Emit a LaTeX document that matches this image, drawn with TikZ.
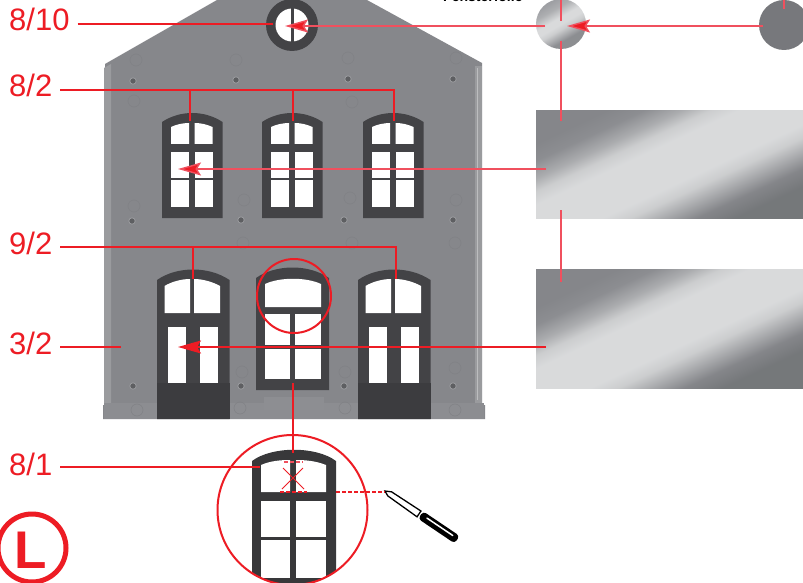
\documentclass[tikz,border=0pt]{standalone}
\usepackage{fontspec}
\setmainfont{Liberation Sans}
\usetikzlibrary{arrows.meta}
\definecolor{redline}{HTML}{ED1C24}
\definecolor{redsoft}{HTML}{F0505E}
\definecolor{wall}{HTML}{86878B}
\definecolor{wallstrip}{HTML}{9A9B9E}
\definecolor{frame}{HTML}{434346}
\definecolor{doordark}{HTML}{3C3C3F}
\definecolor{bolt}{HTML}{5E5F62}
\definecolor{peg}{HTML}{808185}
\definecolor{detailframe}{HTML}{38383A}
\definecolor{greydiscfill}{HTML}{77787C}
\pgfdeclareverticalshading{panelgrad}{100bp}{rgb(0bp)=(.46,.47,.48); rgb(40.5bp)=(.46,.47,.48); rgb(42.5bp)=(.52,.525,.54); rgb(44.5bp)=(.68,.685,.695); rgb(46bp)=(.8,.805,.81); rgb(47.5bp)=(.85,.855,.86); rgb(52.5bp)=(.85,.855,.86); rgb(54bp)=(.8,.805,.81); rgb(55.5bp)=(.67,.675,.685); rgb(57.5bp)=(.55,.555,.57); rgb(59.5bp)=(.52,.525,.54); rgb(100bp)=(.52,.525,.54)}
\pgfdeclareverticalshading{discgrad}{100bp}{rgb(0bp)=(.55,.555,.57); rgb(40bp)=(.55,.555,.57); rgb(47bp)=(.8,.805,.81); rgb(50bp)=(.85,.855,.86); rgb(54bp)=(.85,.855,.86); rgb(60bp)=(.68,.685,.695); rgb(65bp)=(.62,.625,.64); rgb(100bp)=(.62,.625,.64)}
\tikzset{
  callout/.style={draw=redline,line width=1.4pt},
  calloutsoft/.style={draw=redsoft,line width=1.4pt},
  pointer/.style={callout,-{Stealth[length=23pt,width=13pt,inset=4pt,fill=redline]}},
  pointersoft/.style={calloutsoft,-{Stealth[length=23pt,width=13pt,inset=4pt,fill=redline]}},
  partlabel/.style={inner sep=0pt,anchor=base west,text=redline,font=\fontsize{31}{31}\selectfont},
  ring/.style={draw=redline,line width=2pt},
  pane/.style={fill=white},
  boltdot/.style={fill=bolt,draw=wallstrip,line width=.8pt},
  pegring/.style={draw=peg,line width=.5pt},
}
\newcommand{\UpperWin}[1]{%
  \begin{scope}[xshift=#1pt]
    \fill[frame] (0,218) -- (0,122) .. controls (18,110) and (42.5,110) .. (60.5,122) -- (60.5,218) -- cycle;
    \fill[pane] (9,144) -- (9,127) .. controls (14,124.5) and (21,123) .. (27,123) -- (27,144) -- cycle;
    \fill[pane] (32.5,144) -- (32.5,123) .. controls (39,123) and (45,124.5) .. (50.5,127) -- (50.5,144) -- cycle;
    \fill[pane] (9,152) rectangle (27,178);
    \fill[pane] (32.5,152) rectangle (50.5,178);
    \fill[pane] (9,180) rectangle (27,207);
    \fill[pane] (32.5,180) rectangle (50.5,207);
  \end{scope}}
\newcommand{\DoorWin}[1]{%
  \begin{scope}[xshift=#1pt]
    \fill[frame] (0,419) -- (0,280) .. controls (20,266) and (52,266) .. (72.5,280) -- (72.5,419) -- cycle;
    \fill[doordark] (0,383) rectangle (72.5,419);
    \fill[pane] (7.5,313) -- (7.5,286) .. controls (14,282) and (24,279) .. (33,279) -- (33,313) -- cycle;
    \fill[pane] (37,313) -- (37,279) .. controls (46,279) and (56,282) .. (63,286) -- (63,313) -- cycle;
    \fill[pane] (11,327) rectangle (28.5,383);
    \fill[pane] (43,327) rectangle (61,383);
  \end{scope}}
\begin{document}
\begin{tikzpicture}[x=1pt,y=-1pt]
\useasboundingbox (0,0) rectangle (803,583);
\clip (0,0) rectangle (803,583);
\fill[white] (0,0) rectangle (803,583);

% caption cut by the page edge
\node[inner sep=0pt,anchor=base west,font=\bfseries\fontsize{14}{14}\selectfont] (caption) at (443,2) {Fensterfolie};

% building
\fill[wall] (103,419) -- (103,405) -- (105,405) -- (105,64) -- (217,0) -- (367,0) -- (482,63) -- (482,405) -- (485,405) -- (485,419) -- cycle;
\fill[wallstrip] (104,68) -- (111,64) -- (111,403) -- (104,403) -- cycle;
\fill[wallstrip] (475,66) -- (482,66) -- (482,403) -- (475,403) -- cycle;
\draw[white!45!wall,line width=1pt] (477.5,68) -- (477.5,400);
\fill[white!5!wall] (104,403) rectangle (484,419);
\fill[white!6!wall] (264,397) rectangle (324,410);
\foreach \px/\py in {136/60,236/60,348/58,456/58,134/101,352/102,134/206,244/200,350/198,456/200,243/243,352/243,455/243,242/372,345/372,455/368,137/410,240/408,345/408,455/410}
  \draw[pegring] (\px,\py) circle (6);
\foreach \px/\py in {133/81,236/80,348/79,453/79,132/221,241/220,344/220,453/220,133/386,241/386,344/386,453/386}
  \filldraw[boltdot] (\px,\py) circle (3.2);

% round window
\fill[frame] (292,25) circle (26);
\fill[pane] (292,25) circle (16.5);
\fill[frame] (290.5,8) rectangle (293.5,42);

% upper windows
\UpperWin{162}
\UpperWin{262}
\UpperWin{363}

% lower windows
\DoorWin{157}
\DoorWin{358}
\fill[frame] (256,390) -- (256,278) .. controls (276,264) and (309,264) .. (329,278) -- (329,390) -- cycle;
\fill[pane] (265,307) -- (265,284) .. controls (280,277) and (306,277) .. (321,284) -- (321,307) -- cycle;
\fill[pane] (265,314) rectangle (290,345);
\fill[pane] (295,314) rectangle (321,345);
\fill[pane] (265,349) rectangle (290,379);
\fill[pane] (295,349) rectangle (321,379);

% film discs and strips
\begin{scope}
  \clip (561,24) circle (25);
  \shade[shading=discgrad,shading angle=30] (521,-16) rectangle (601,64);
\end{scope}
\fill[greydiscfill] (784,25) circle (25);
\begin{scope}
  \clip (536,111) rectangle (803,218);
  \shade[shading=panelgrad,shading angle=25] (469.5,-35.5) rectangle (869.5,364.5);
\end{scope}
\begin{scope}
  \clip (536,269) rectangle (803,388);
  \shade[shading=panelgrad,shading angle=25] (469.5,128.5) rectangle (869.5,528.5);
\end{scope}

% labels
\node[partlabel] (l810) at (9,31) {8/10};
\node[partlabel] (l82) at (9,97) {8/2};
\node[partlabel] (l92) at (9,254) {9/2};
\node[partlabel] (l32) at (9,354) {3/2};
\node[partlabel] (l81) at (9,475) {8/1};

% anchors on the parts
\coordinate (roundwin) at (273,24);
\coordinate (roundtip) at (285,26);
\coordinate (disctip) at (567,26);
\coordinate (discleft) at (545,26);
\coordinate (greydisc) at (763,26);
\coordinate (stripatop) at (561,121);
\coordinate (stripabot) at (561,210);
\coordinate (stripbtop) at (561,282);
\coordinate (discbot) at (561,41);
\coordinate (disctop) at (561,21);
\coordinate (discedge) at (561,0);
\coordinate (greytop) at (784,9);
\coordinate (greyedge) at (784,0);
\coordinate (stripamid) at (546,169);
\coordinate (stripbmid) at (546,347);
\coordinate (upwintip) at (178,169);
\coordinate (doortip) at (178,347);
\coordinate (wallpoint) at (121,347);
\coordinate (busend) at (394,90);
\coordinate (drop1) at (190,121);
\coordinate (drop2) at (293,121);
\coordinate (drop3) at (394,121);
\coordinate (dbusend) at (396,247);
\coordinate (ddrop1) at (193,279);
\coordinate (ddrop2) at (396,279);
\coordinate (midwinbot) at (293,383);
\coordinate (detailtop) at (293,453);
\coordinate (detailframept) at (260,467);

% detail window
\begin{scope}
  \clip (292.5,510) circle (75);
  \fill[detailframe] (252,590) -- (252,461) .. controls (272,446) and (316,446) .. (336,461) -- (336,590) -- cycle;
  \fill[pane] (261,492) -- (261,465) .. controls (270,461) and (280,460) .. (290,460) -- (290,492) -- cycle;
  \fill[pane] (296,492) -- (296,460) .. controls (306,460) and (316,461) .. (326,465) -- (326,492) -- cycle;
  \fill[pane] (261,501) rectangle (290,537);
  \fill[pane] (296,501) rectangle (326,537);
  \fill[pane] (261,540) rectangle (290,578);
  \fill[pane] (296,540) rectangle (326,578);
\end{scope}

% knife
\begin{scope}[shift={(385,491)},rotate=-34]
  \draw[black,line width=1.3pt,fill=white] (0,0) -- (6,-3) -- (41,-3.5) -- (41,3.5) -- (5,2.5) -- cycle;
  \fill[black,rounded corners=3.5pt] (43,-4.5) rectangle (87,4.5);
  \draw[white,line width=1.5pt,line cap=round] (50,-1) -- (81,-1);
\end{scope}

% connectors
\draw[callout] ([shift={(8,-7)}]l810.base east) -- (roundwin);
\draw[pointersoft] (discleft) -- (roundtip);
\draw[pointersoft] (greydisc) -- (disctip);
\draw[calloutsoft] (discedge) -- (disctop);
\draw[calloutsoft] (discbot) -- (stripatop);
\draw[calloutsoft] (stripabot) -- (stripbtop);
\draw[calloutsoft] (greyedge) -- (greytop);
\draw[callout] ([shift={(8,-7)}]l82.base east) -- (busend) -- (drop3);
\draw[callout] (drop1 |- busend) -- (drop1);
\draw[callout] (drop2 |- busend) -- (drop2);
\draw[pointersoft] (stripamid) -- (upwintip);
\draw[callout] ([shift={(8,-7)}]l92.base east) -- (dbusend) -- (ddrop2);
\draw[callout] (ddrop1 |- dbusend) -- (ddrop1);
\draw[pointer] (stripbmid) -- (doortip);
\draw[callout] ([shift={(8,-7)}]l32.base east) -- (wallpoint);
\draw[callout] (midwinbot) -- (detailtop);
\draw[callout] ([shift={(8,-8)}]l81.base east) -- (detailframept);

% rings
\draw[ring] (294,296) circle (37);
\draw[ring] (292.5,510) circle (75);

% cut marks
\coordinate (xa) at (283,468);
\coordinate (xb) at (304,489);
\coordinate (xc) at (303,468);
\coordinate (xd) at (282,489);
\draw[redline,line width=.9pt] (xa) -- (xb) (xc) -- (xd);
\draw[redsoft,line width=1.1pt,dash pattern=on 4pt off 2pt] (284,462) -- (303,462);
\draw[redline,line width=1.1pt,dash pattern=on 4pt off 2pt] (280,492) -- (307,492);
\draw[redline,line width=1.1pt,dash pattern=on 4pt off 2pt] (336,492) -- (385,492);

% assembly mark
\draw[redline,line width=5pt] (32,548) circle (34);
\node[inner sep=0pt,anchor=base west,text=redline,font=\bfseries\fontsize{53}{53}\selectfont] (markL) at (14,568) {L};
\end{tikzpicture}
\end{document}
